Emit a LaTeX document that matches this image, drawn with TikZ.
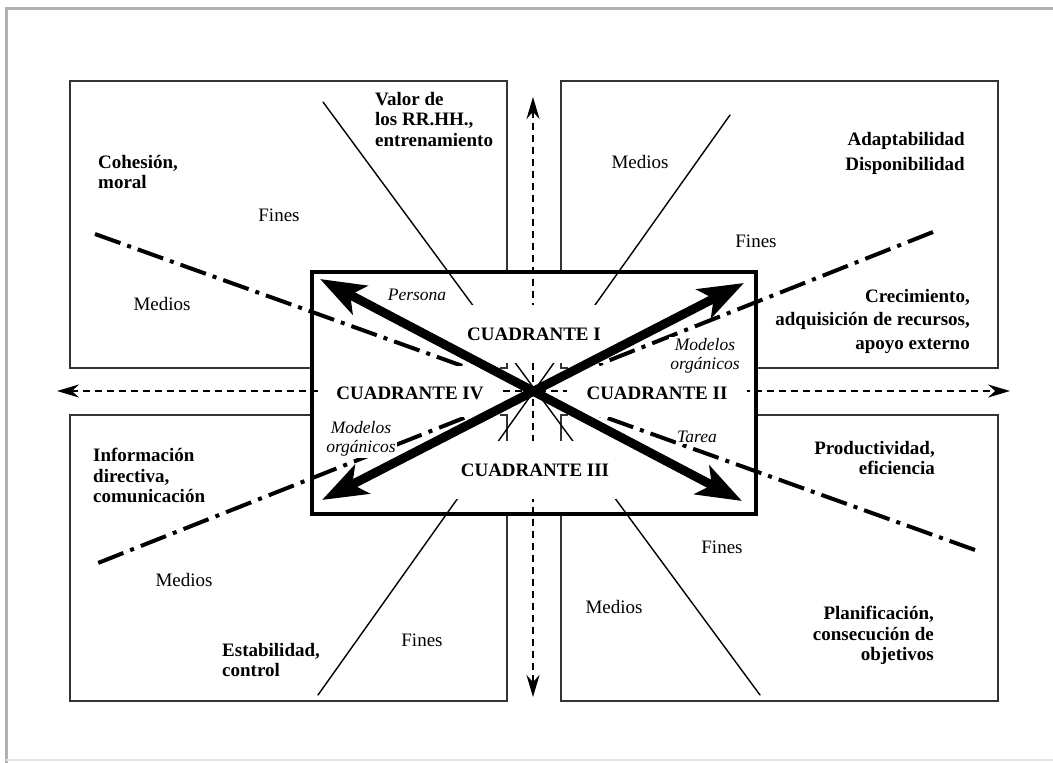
\documentclass[tikz,border=0pt]{standalone}
\usepackage{fontspec}
\setmainfont{Liberation Serif}
\usetikzlibrary{arrows.meta}
\begin{document}
\begin{tikzpicture}[x=1pt,y=-1pt,
  quad/.style={draw=black!80,line width=1.3pt},
  ray/.style={line width=1.4pt,line cap=round},
  dashdot/.style={line width=4pt,dash pattern=on 27pt off #1 on 4pt off #1},
  axis/.style={line width=2.4pt,dash pattern=on 7pt off 5pt,
    {Stealth[length=22pt,width=13pt]}-{Stealth[length=22pt,width=13pt]}},
  bigarrow/.style={line width=9pt,
    {Stealth[length=45pt,width=32pt,inset=11pt]}-{Stealth[length=45pt,width=32pt,inset=11pt]}},
  head/.style={font=\fontsize{19}{20.5}\selectfont\bfseries,inner sep=0pt},
  word/.style={font=\fontsize{19}{20.5}\selectfont,inner sep=0pt},
  tag/.style={font=\fontsize{17.5}{19}\selectfont\itshape,fill=white,inner sep=1.5pt,align=center},
  qname/.style={font=\fontsize{19}{20.5}\selectfont\bfseries,fill=white,inner sep=0pt}]
\useasboundingbox (0,0) rectangle (1053,763);

% page frame
\draw[gray!60,line width=3pt] (6,763) -- (6,8) -- (1053,8);
\draw[gray!20,line width=1.5pt] (6,760) -- (1053,760);

% the four quadrant panels
\draw[quad] (70,81) rectangle (507,368);
\draw[quad] (561,81) rectangle (998,368);
\draw[quad] (70,415) rectangle (507,701);
\draw[quad] (561,415) rectangle (998,701);

% central panel background
\fill[white] (312,272) rectangle (756,514);

% points used by the connectors
\coordinate (c) at (533,391);
\coordinate (dA1) at (95,234);   \coordinate (dA2) at (975,550);
\coordinate (dD1) at (933,232);  \coordinate (dD2) at (98,563);
\coordinate (rB1) at (323,102);  \coordinate (rB2) at (760,695);
\coordinate (rC1) at (730,115);  \coordinate (rC2) at (318,695);
\coordinate (axL) at (57,391);   \coordinate (axR) at (1010,391);
\coordinate (axT) at (533,97);   \coordinate (axB) at (533,697);
\coordinate (tl) at (320,279);   \coordinate (br) at (742,501);
\coordinate (tr) at (744,283);   \coordinate (bl) at (322,500);

% dash-dot diagonals (gaps sized so both ends finish on a dash)
\draw[dashdot=7.2pt] (dA1) -- (dA2);
\draw[dashdot=7.42pt] (dD1) -- (dD2);

% horizontal band across the middle of the central panel
\fill[white] (314.5,366) rectangle (753.5,417);

% panel corners showing around the centre
\draw[quad] (500,368) -- (507,368) -- (507,362);
\draw[quad] (568,368) -- (561,368) -- (561,362);
\draw[quad] (500,415) -- (507,415) -- (507,442);
\draw[quad] (568,415) -- (561,415) -- (561,442);

% thin diagonals and dashed axes
\draw[ray] (rB1) -- (rB2);
\draw[ray] (rC1) -- (rC2);
\draw[axis] (axL) -- (axR);
\draw[axis] (axT) -- (axB);

% quadrant names
\node[qname,minimum width=138pt,minimum height=58pt] (cI) at (534,334) {CUADRANTE I};
\node[qname,minimum width=161pt,minimum height=58pt] (cIII) at (535,470) {CUADRANTE III};
\node[qname,minimum width=180pt,minimum height=34pt] (cIV) at (410,393) {CUADRANTE IV};
\node[qname,minimum width=180pt,minimum height=34pt] (cII) at (657,393) {CUADRANTE II};

% italic tags
\node[tag] (persona) at (417,295) {Persona};
\node[tag] (morgA) at (705,356) {Modelos\\orgánicos};
\node[tag] (morgB) at (361,439) {Modelos\\orgánicos};
\node[tag] (tarea) at (697,437) {Tarea};

% thick double arrows
\draw[bigarrow] (tl) -- (br);
\draw[bigarrow] (tr) -- (bl);

% central panel border
\draw[line width=4.5pt] (312,272) rectangle (756,514);

% top-left panel
\node[head,anchor=north west,align=left] (valor) at (375,92) {Valor de\\los RR.HH.,\\entrenamiento};
\node[head,anchor=north west,align=left] (cohesion) at (98,155) {Cohesión,\\moral};
\node[word] (finesTL) at (279,215) {Fines};
\node[word] (mediosTL) at (162,304) {Medios};

% top-right panel
\node[word] (mediosTR) at (640,162) {Medios};
\node[head,anchor=north east,align=right] (adapt) at (965,132) {Adaptabilidad\\[4.5pt]Disponibilidad};
\node[word] (finesTR) at (756,241) {Fines};
\node[head,anchor=north east,align=right] (crec) at (970,289) {Crecimiento,\\[3pt]adquisición de recursos,\\[3pt]apoyo externo};

% bottom-left panel
\node[head,anchor=north west,align=left] (info) at (93,448) {Información\\directiva,\\comunicación};
\node[word] (mediosBL) at (184,580) {Medios};
\node[head,anchor=north west,align=left] (estab) at (222,643) {Estabilidad,\\control};
\node[word] (finesBL) at (422,640) {Fines};

% bottom-right panel
\node[head,anchor=north east,align=right] (prod) at (935,441) {Productividad,\\eficiencia};
\node[word] (finesBR) at (722,547) {Fines};
\node[word] (mediosBR) at (614,607) {Medios};
\node[head,anchor=north east,align=right] (plan) at (934,606) {Planificación,\\consecución de\\objetivos};
\end{tikzpicture}
\end{document}
